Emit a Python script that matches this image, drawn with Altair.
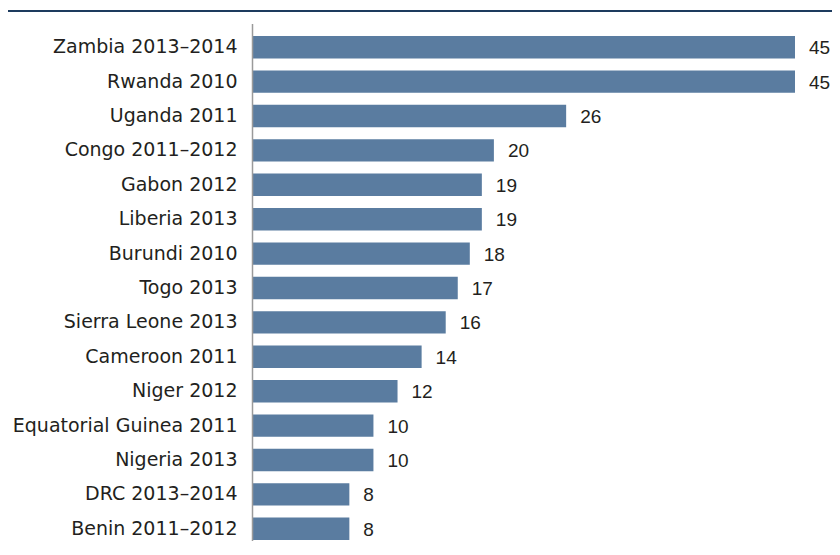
import altair as alt
import pandas as pd

countries = [
    "Zambia 2013–2014", "Rwanda 2010", "Uganda 2011", "Congo 2011–2012",
    "Gabon 2012", "Liberia 2013", "Burundi 2010", "Togo 2013",
    "Sierra Leone 2013", "Cameroon 2011", "Niger 2012",
    "Equatorial Guinea 2011", "Nigeria 2013", "DRC 2013–2014", "Benin 2011–2012",
]
values = [45, 45, 26, 20, 19, 19, 18, 17, 16, 14, 12, 10, 10, 8, 8]

df = pd.DataFrame({"country": countries, "value": values})

W = 579
H = 511          # visible plot height (svg ends here)
RANGE_H = 516    # band range, last row runs to the bottom edge
xmax = 45 * W / 542
FONT = "DejaVu Sans"
VFONT = "Liberation Sans"
TXT = "#231f20"

x = alt.X("value:Q", scale=alt.Scale(domain=[0, xmax], nice=False), axis=None)
y = alt.Y(
    "country:N",
    sort=countries,
    scale=alt.Scale(paddingInner=0.35, paddingOuter=0.175, range=[0, RANGE_H]),
    axis=alt.Axis(
        title=None, ticks=False, domain=False, labelFontSize=19, labelFont=FONT,
        labelColor=TXT, labelPadding=16, labelLimit=400,
    ),
)

bars = alt.Chart(df).mark_bar(color="#5a7ca0").encode(x=x, y=y)
text = alt.Chart(df).mark_text(
    align="left", baseline="middle", dx=14, dy=1, fontSize=19, font=VFONT, color=TXT
).encode(x=x, y=y, text="value:Q")

one = pd.DataFrame({"a": [0]})
axisline = alt.Chart(one).mark_rule(color="#9a9a9a", strokeWidth=1.5).encode(
    x=alt.value(-0.5), y=alt.value(-6), y2=alt.value(H + 20)
)
topline = alt.Chart(one).mark_rule(color="#1d3b5e", strokeWidth=2).encode(
    x=alt.value(-260), x2=alt.value(W + 10), y=alt.value(-19)
)

chart = alt.layer(bars, text, axisline, topline).properties(
    width=W, height=H, autosize="none",
    padding={"left": 245, "top": 22, "right": 0, "bottom": 0},
).configure_view(stroke=None)

chart.save("out.html", embed_options={"renderer": "svg", "actions": False})
